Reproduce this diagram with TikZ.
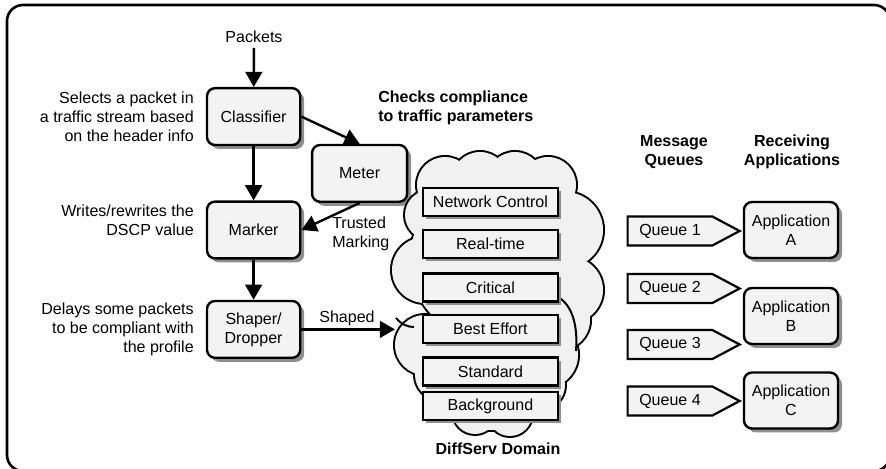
\documentclass[tikz,border=0pt]{standalone}
\usepackage{fontspec}
\setmainfont{Liberation Sans}
\usetikzlibrary{arrows.meta, positioning, shapes.symbols, shadows}

\definecolor{boxgray}{HTML}{F3F3F3}
\definecolor{cloudgray}{HTML}{F1F1F1}
\definecolor{shadowgray}{HTML}{8F8F8F}

\newcommand\basefont{\fontsize{11.4}{13.5}\selectfont}
% circles whose union gives the domain cloud
\newcommand\cloudparts{(11.125,7.1)/.7, (12.0,7.225)/.7, (12.875,7.225)/.7, (13.7,7.1)/.7,
  (14.125,5.975)/.95, (14.25,4.475)/.825, (14.0,3.725)/.75, (10.625,4.975)/.825,
  (10.75,6.35)/.625, (12.25,5.225)/2.0, (10.625,3.1)/.75, (11.0,2.35)/.625,
  (13.625,2.85)/.825, (13.5,2.1)/.625, (11.875,1.425)/.55, (12.75,1.375)/.55,
  (12.25,2.475)/1.5}

\tikzset{
  procbox/.style={draw, line width=.06cm, rounded corners=.2cm, fill=boxgray,
    minimum width=2.33cm, minimum height=1.42cm, align=center,
    drop shadow={shadow xshift=.1cm, shadow yshift=-.1cm, fill=shadowgray, opacity=1}},
  classbox/.style={draw, line width=.055cm, fill=boxgray, minimum width=3.375cm,
    minimum height=.7cm,
    drop shadow={shadow xshift=.08cm, shadow yshift=-.08cm, fill=shadowgray, opacity=1}},
  queuebox/.style={draw, line width=.055cm, fill=boxgray, signal, signal to=east,
    signal from=nowhere, signal pointer angle=56, minimum width=2.8cm, minimum height=.725cm},
  note/.style={align=right, anchor=east, inner sep=0pt},
  heading/.style={font=\basefont\bfseries, align=center},
  flow/.style={->, line width=.06cm},
}

\begin{document}
\begin{tikzpicture}[font=\basefont, >={Triangle[length=.38cm,width=.42cm]}]
	\useasboundingbox (0,0) rectangle (22.15,11.725);
	\clip (0,0) rectangle (22.15,11.725);
	% outer frame (runs off the right and bottom edge)
	\draw [line width=.065cm, rounded corners=.4cm] (0.175,-0.05) rectangle (22.25,11.6);

	% packet path on the left
	\node (packets) at (6.35,10.8) {Packets};
	\node [procbox] (classifier) at (6.34,8.81) {Classifier};
	\node [procbox, minimum width=2.375cm] (meter) at (8.99,7.39) {Meter};
	\node [procbox] (marker) at (6.34,5.975) {Marker};
	\node [procbox] (shaper) at (6.34,3.49) {Shaper/\\Dropper};

	\node [note] (selectnote) at (4.85,8.8) {Selects a packet in\\a traffic stream based\\on the header info};
	\node [note] (writenote) at (4.85,6.21) {Writes/rewrites the\\DSCP value};
	\node [note] (delaynote) at (4.85,3.5) {Delays some packets\\to be compliant with\\the profile};
	\node [align=left, anchor=west, inner sep=0pt] (trusted) at (8.3,5.875) {Trusted\\Marking};
	\node [heading, align=left, anchor=west, inner sep=0pt] (checks) at (9.45,9.04) {Checks compliance\\to traffic parameters};

	\draw [flow] (packets) -- (classifier);
	\draw [flow] (classifier) -- (marker);
	\draw [flow] (marker) -- (shaper);
	\draw [flow] (classifier.east) -- (meter.north);
	\draw [flow] (meter.south) -- (marker.east);
	\coordinate (cloudin) at (9.875,3.49);
	\draw [flow] (shaper.east) -- (cloudin);
	\node (shaped) at (8.675,3.775) {Shaped};

	% the cloud: thick outlines first, fill on top keeps only the outer rim
	\foreach \p/\r in \cloudparts \draw [line width=.1cm] \p circle (\r);
	\foreach \p/\r in \cloudparts \fill [cloudgray] \p circle (\r);
	\draw [line width=.05cm] (9.9,3.775) .. controls (10.05,3.6) and (10.2,3.55) .. (10.35,3.55);
	\draw [line width=.05cm] (13.95,4.3) .. controls (14.3,4.1) and (14.45,3.6) .. (14.4,2.95);

	% traffic classes
	\node [classbox] (netctl) at (12.26,6.675) {Network Control};
	\node [classbox] (realtime) at (12.26,5.625) {Real-time};
	\node [classbox] (critical) at (12.26,4.5375) {Critical};
	\node [classbox] (besteffort) at (12.26,3.5) {Best Effort};
	\node [classbox] (standard) at (12.26,2.4375) {Standard};
	\node [classbox] (background) at (12.26,1.575) {Background};
	\node [heading] (domain) at (12.45,0.5) {DiffServ Domain};

	% queues and receivers
	\node [heading] (msgq) at (16.85,7.925) {Message\\Queues};
	\node [heading] (recv) at (19.8,7.925) {Receiving\\Applications};
	\foreach \i/\y in {1/5.95, 2/4.5125, 3/3.1125, 4/1.7}
		\node [queuebox] (queue\i) at (16.75,\y) {Queue \i};
	\node [procbox, minimum width=2.35cm, minimum height=1.4cm] (appA) at (19.775,5.975) {Application\\A};
	\node [procbox, minimum width=2.35cm, minimum height=1.4cm] (appB) at (19.775,3.825) {Application\\B};
	\node [procbox, minimum width=2.35cm, minimum height=1.4cm] (appC) at (19.775,1.7125) {Application\\C};
\end{tikzpicture}
\end{document}
